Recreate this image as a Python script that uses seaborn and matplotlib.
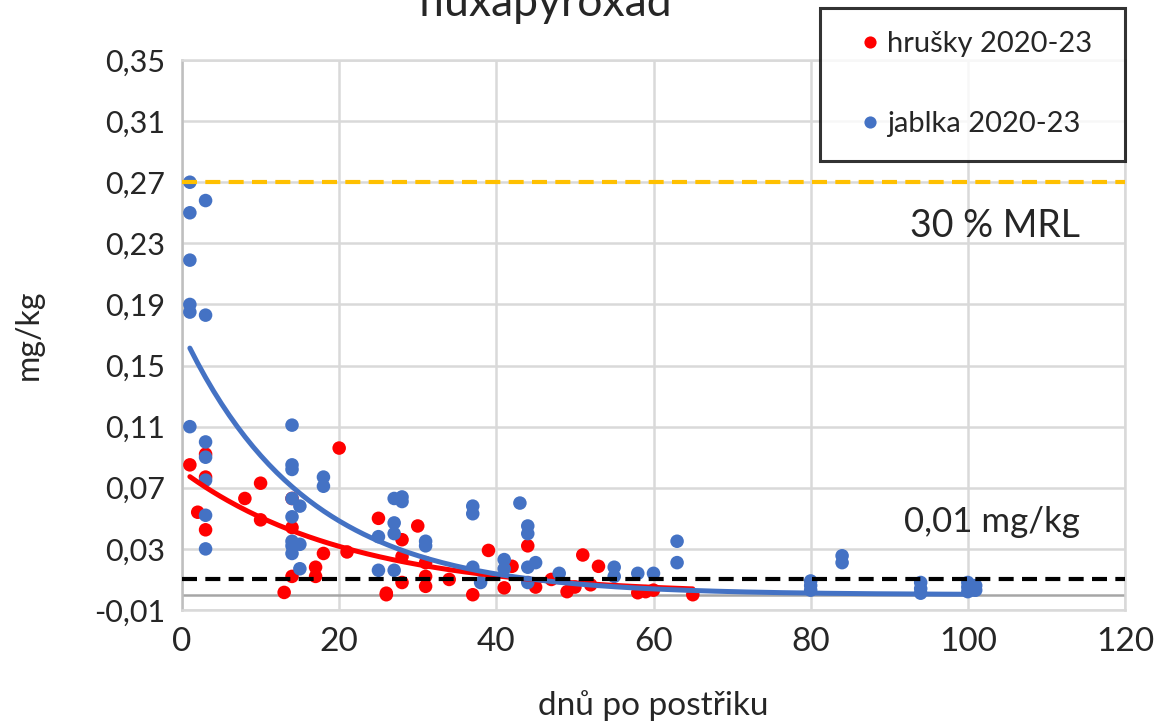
import numpy as np
import pandas as pd
import matplotlib
matplotlib.use("Agg")
import matplotlib.pyplot as plt
import seaborn as sns
from matplotlib.ticker import FuncFormatter, FixedLocator

# ---------------- data ----------------
pear_days = [1, 2, 3, 3, 3, 8, 10, 10, 13, 14, 14, 14, 17, 17, 18, 20, 21, 25,
             26, 26, 28, 28, 28, 30, 31, 31, 31, 34, 37, 39, 41, 42, 44, 45, 47,
             49, 50, 51, 52, 53, 58, 59, 60, 65]
pear_vals = [0.085, 0.054, 0.092, 0.077, 0.0425, 0.063, 0.073, 0.049, 0.0015,
             0.063, 0.044, 0.012, 0.018, 0.012, 0.027, 0.096, 0.028, 0.050,
             0.001, 0.0, 0.036, 0.025, 0.008, 0.045, 0.021, 0.012, 0.0055,
             0.010, 0.0, 0.029, 0.0045, 0.0186, 0.032, 0.005, 0.010, 0.002,
             0.005, 0.026, 0.0065, 0.0186, 0.0013, 0.002, 0.003, 0.0]

apple_days = [1, 1, 1, 1, 1, 1,
              3, 3, 3, 3, 3, 3, 3,
              14, 14, 14, 14, 14, 14, 14, 14,
              15, 15, 15, 18, 18, 25, 25, 27, 27, 27, 27, 28, 28, 31, 31,
              37, 37, 37, 38, 41, 41, 43, 44, 44, 44, 44, 45, 48, 55, 55,
              58, 60, 63, 63, 80, 80, 80, 84, 84, 94, 94, 94, 100, 100, 100,
              101, 101]
apple_vals = [0.270, 0.250, 0.219, 0.190, 0.185, 0.110,
              0.258, 0.183, 0.100, 0.090, 0.075, 0.052, 0.030,
              0.111, 0.085, 0.082, 0.063, 0.051, 0.035, 0.032, 0.027,
              0.058, 0.033, 0.017, 0.077, 0.071, 0.038, 0.016, 0.063, 0.047,
              0.040, 0.016, 0.064, 0.061, 0.035, 0.032,
              0.058, 0.053, 0.018, 0.008, 0.023, 0.017, 0.060, 0.045, 0.040,
              0.018, 0.008, 0.021, 0.014, 0.018, 0.012,
              0.014, 0.014, 0.035, 0.021, 0.009, 0.006, 0.003, 0.0255, 0.021,
              0.008, 0.004, 0.001, 0.008, 0.005, 0.002, 0.006, 0.003]

# exponential trendlines y = a * exp(-b * x) (parameters)
pear_trend = (0.081, 0.047)
apple_trend = (0.172, 0.0635)

mrl30 = 0.27
loq = 0.01

series_labels = ["hrušky 2020-23", "jablka 2020-23"]
y_ticks = [-0.01, 0.03, 0.07, 0.11, 0.15, 0.19, 0.23, 0.27, 0.31, 0.35]
x_ticks = [0, 20, 40, 60, 80, 100, 120]

# ---------------- style ----------------
sns.set_theme(style="white")
plt.rcParams["font.family"] = ["Lato", "DejaVu Sans"]

RED = "#FF0000"
BLUE = "#4472C4"
ORANGE = "#FFC000"
GRID = "#D9D9D9"

W, H = 1158, 724
fig = plt.figure(figsize=(W / 100, H / 100), dpi=100)
ax = fig.add_axes([182 / W, 1 - 610 / H, (1125 - 182) / W, (610 - 60) / H])

df = pd.concat([
    pd.DataFrame({"x": pear_days, "y": pear_vals, "s": series_labels[0]}),
    pd.DataFrame({"x": apple_days, "y": apple_vals, "s": series_labels[1]}),
], ignore_index=True)

sns.scatterplot(data=df, x="x", y="y", hue="s", palette=[RED, BLUE],
                s=95, linewidth=0, ax=ax, zorder=3, legend=True)

# trendlines
for days, (a, b), col in [(pear_days, pear_trend, RED), (apple_days, apple_trend, BLUE)]:
    xs = np.linspace(min(days), max(days), 200)
    ax.plot(xs, a * np.exp(-b * xs), color=col, lw=3.6, zorder=4,
            solid_capstyle="round")

# reference lines
ax.axhline(0, color="#A6A6A6", lw=1.8, zorder=2)
ax.axhline(mrl30, color=ORANGE, lw=3.0, ls=(0, (3.6, 2.0)), zorder=5)
ax.axhline(loq, color="black", lw=3.0, ls=(0, (3.6, 2.0)), zorder=5)

ax.set_xlim(0, 120)
ax.set_ylim(-0.01, 0.35)
ax.xaxis.set_major_locator(FixedLocator(x_ticks))
ax.yaxis.set_major_locator(FixedLocator(y_ticks))
ax.yaxis.set_major_formatter(FuncFormatter(lambda v, p: f"{v:.2f}".replace(".", ",")))
ax.grid(True, color=GRID, lw=1.8, zorder=0)
ax.set_axisbelow(True)
ax.tick_params(axis="both", length=0, colors="#262626")
ax.tick_params(axis="y", labelsize=22, pad=12)
ax.tick_params(axis="x", labelsize=24, pad=12)
for side, sp in ax.spines.items():
    sp.set_color(GRID)
    sp.set_linewidth(1.8)
ax.spines["left"].set_color("#BFBFBF")

ax.set_xlabel("dnů po postřiku", fontsize=24, color="#262626", labelpad=24)
ax.set_ylabel("mg/kg", fontsize=23, color="#262626", labelpad=36)

ax.text(114.3, 0.2343, "30 % MRL", fontsize=27, ha="right", va="baseline",
        color="#262626", zorder=6)
ax.text(114.3, 0.0412, "0,01 mg/kg", fontsize=25, ha="right", va="baseline",
        color="#262626", zorder=6)

fig.text(545 / W, 1 - 16 / H, "fluxapyroxad", fontsize=32, ha="center",
         va="baseline", color="#262626")

# legend
handles, labels = ax.get_legend_handles_labels()
leg = ax.legend(handles, labels, loc="upper left",
                bbox_to_anchor=(820 / W, 1 - 165 / H, 305 / W, 157 / H),
                bbox_transform=fig.transFigure, mode="expand",
                fontsize=21, frameon=True, fancybox=False, borderpad=0.8,
                labelspacing=1.85, handlelength=1.8, handletextpad=-0.3,
                markerscale=0.9, borderaxespad=0)
leg.get_frame().set_edgecolor("black")
leg.get_frame().set_linewidth(2.2)
leg.set_zorder(10)
for t in leg.get_texts():
    t.set_color("#262626")

fig.savefig("out.png", dpi=100)
